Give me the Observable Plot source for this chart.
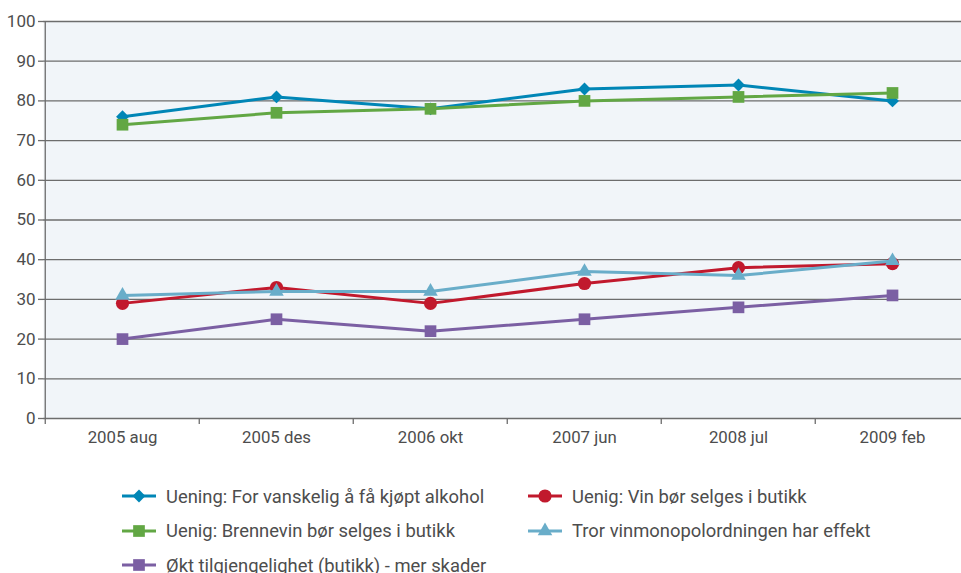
<!DOCTYPE html>
<html>
<head>
<meta charset="utf-8">
<script src="https://cdn.jsdelivr.net/npm/d3@7"></script>
<script src="https://cdn.jsdelivr.net/npm/@observablehq/plot@0.6"></script>
<style>
  body { margin: 0; background: #fff; font-family: Roboto, "Liberation Sans", sans-serif; }
  #chart svg { display: block; }
  #legend { position: relative; height: 118px; font-size: 18.4px; color: #4d4d4d; }
  .item { position: absolute; display: flex; align-items: center; height: 34px; white-space: nowrap; }
  .item svg { margin-right: 10px; }
</style>
</head>
<body>
<div id="chart"></div>
<div id="legend"></div>
<script>
const categories = ["2005 aug", "2005 des", "2006 okt", "2007 jun", "2008 jul", "2009 feb"];
const yTicks = [0, 10, 20, 30, 40, 50, 60, 70, 80, 90, 100];

const seriesNames = [
  "Uening: For vanskelig å få kjøpt alkohol",
  "Uenig: Brennevin bør selges i butikk",
  "Uenig: Vin bør selges i butikk",
  "Tror vinmonopolordningen har effekt",
  "Økt tilgjengelighet (butikk) - mer skader"
];
const vanskelig = [76, 81, 78, 83, 84, 80];
const brennevin = [74, 77, 78, 80, 81, 82];
const vin = [29, 33, 29, 34, 38, 39];
const effekt = [31, 32, 32, 37, 36, 39.7];
const skader = [20, 25, 22, 25, 28, 31];

const colors = ["#0086b6", "#62a744", "#c1192d", "#69adc9", "#7b5fa3"];
const symbols = ["diamond2", "square", "circle", "triangle", "square"];
const radii = [5.8, 6.6, 6.6, 5.4, 6.6];
const seriesValues = [vanskelig, brennevin, vin, effekt, skader];

const data = [];
seriesNames.forEach((name, s) => {
  seriesValues[s].forEach((v, i) => data.push({series: name, s, cat: categories[i], value: v}));
});

const W = 961, H = 455;
const xLeft = 43, xRight = 970;
const step = (xRight - xLeft) / categories.length;

const marks = [
  Plot.frame({fill: "#f1f5f9", stroke: null}),
  Plot.ruleY(yTicks.filter(d => d > 0), {stroke: "#6d6d6d", strokeWidth: 1.3}),
  Plot.ruleY([0], {stroke: "#6d6d6d", strokeWidth: 1.3}),
  Plot.ruleX([categories[0]], {dx: -step / 2, y1: 0, y2: 100, stroke: "#6d6d6d", strokeWidth: 1.3}),
  Plot.axisX({ticks: categories, tickSize: 6, tickFormat: () => "", label: null, dx: -step / 2, stroke: "#6d6d6d", strokeWidth: 1.3}),
  Plot.axisX({ticks: categories, tickSize: 0, tickPadding: 13, label: null, fontSize: 16.8, fill: "#4d4d4d"}),
  Plot.axisY({ticks: yTicks, tickSize: 5, tickPadding: 3, label: null, fontSize: 17, fill: "#4d4d4d", stroke: "#6d6d6d", strokeWidth: 1.3}),
];
seriesNames.forEach((name, s) => {
  const d = data.filter(r => r.s === s);
  marks.push(Plot.line(d, {x: "cat", y: "value", stroke: colors[s], strokeWidth: 3}));
  marks.push(Plot.dot(d, {x: "cat", y: "value", fill: colors[s], symbol: symbols[s], r: radii[s], stroke: null}));
});

const chart = Plot.plot({
  width: W, height: H,
  marginTop: 21, marginBottom: 37, marginLeft: xLeft, marginRight: 0,
  style: {fontFamily: "Roboto, 'Liberation Sans', sans-serif", background: "transparent", overflow: "hidden"},
  x: {type: "point", domain: categories, range: [xLeft + step / 2, xRight - step / 2], padding: 0, axis: null},
  y: {domain: [0, 100], axis: null},
  marks
});
document.getElementById("chart").appendChild(chart);

// Legend
const legendOrder = [0, 2, 1, 3, 4];
const legend = d3.select("#legend");
const symMap = {diamond2: d3.symbolDiamond2, square: d3.symbolSquare, circle: d3.symbolCircle, triangle: d3.symbolTriangle};
legendOrder.forEach((s, k) => {
  const col = k % 2, row = Math.floor(k / 2);
  const item = legend.append("div").attr("class", "item")
    .style("left", (col === 0 ? 122 : 528) + "px")
    .style("top", (24 + row * 34.5) + "px");
  const sw = item.append("svg").attr("width", 34).attr("height", 20);
  sw.append("line").attr("x1", 0).attr("x2", 34).attr("y1", 10).attr("y2", 10)
    .attr("stroke", colors[s]).attr("stroke-width", 3);
  sw.append("path").attr("transform", "translate(17,10)")
    .attr("d", d3.symbol(symMap[symbols[s]], radii[s] * radii[s] * Math.PI)())
    .attr("fill", colors[s]);
  item.append("span").text(seriesNames[s]);
});
</script>
</body>
</html>
